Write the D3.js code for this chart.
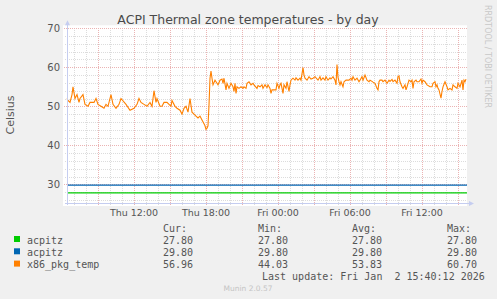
<!DOCTYPE html>
<html><head><meta charset="utf-8">
<script src="https://cdn.jsdelivr.net/npm/d3@7/dist/d3.min.js"></script>
<style>
html,body{margin:0;padding:0;background:#f0f0f0;}
svg{display:block;}
text{font-family:"DejaVu Sans",sans-serif;}
.mono{font-family:"DejaVu Sans Mono",monospace;white-space:pre;}
</style></head><body>
<script>
// ---- data ----
const title = "ACPI Thermal zone temperatures - by day";
const yLabel = "Celsius";
const seriesNames = ["acpitz", "acpitz", "x86_pkg_temp"];
const seriesColors = ["#00cc00", "#0066b3", "#ff8000"];
const curVals = ["27.80", "29.80", "56.96"];
const minVals = ["27.80", "29.80", "44.03"];
const avgVals = ["27.80", "29.80", "53.83"];
const maxVals = ["27.80", "29.80", "60.70"];
const acpitz1 = [27.8, 27.8];
const acpitz2 = [29.8, 29.8];
const yTicks = [30, 40, 50, 60, 70];
const xTickMinutes = [720, 1080, 1440, 1800, 2160];
const xTickLabels = ["Thu 12:00", "Thu 18:00", "Fri 00:00", "Fri 06:00", "Fri 12:00"];
const timeDomain = [385, 2385]; // minutes since Thu 00:00
// minutes since Thu 00:00
const pkgMinutes = [385,390,400,410,415,425,435,445,450,465,475,490,500,520,530,540,555,570,580,590,605,615,630,645,655,680,700,720,735,745,755,770,785,800,810,820,830,835,850,860,870,885,895,905,910,925,935,950,960,970,980,990,1000,1010,1020,1030,1040,1050,1060,1070,1075,1080,1085,1090,1095,1100,1105,1110,1115,1125,1135,1140,1150,1160,1165,1170,1180,1185,1195,1205,1215,1220,1225,1230,1235,1245,1255,1265,1270,1280,1285,1295,1305,1315,1320,1335,1340,1350,1360,1365,1375,1385,1390,1400,1405,1410,1430,1435,1445,1450,1455,1465,1470,1480,1485,1495,1500,1505,1515,1525,1530,1540,1550,1555,1565,1570,1575,1585,1595,1605,1615,1625,1640,1650,1655,1665,1675,1680,1690,1700,1705,1715,1725,1730,1735,1740,1745,1750,1755,1765,1770,1780,1795,1805,1810,1815,1825,1835,1845,1850,1860,1865,1875,1885,1895,1900,1910,1915,1925,1935,1940,1945,1950,1960,1965,1975,1985,1995,2000,2010,2015,2025,2035,2040,2045,2050,2060,2065,2075,2080,2085,2095,2105,2110,2115,2120,2130,2135,2145,2155,2160,2165,2175,2185,2200,2210,2215,2225,2230,2235,2240,2245,2255,2260,2265,2275,2285,2290,2300,2310,2315,2325,2335,2340,2350,2360,2365,2370,2375,2380];
const pkgTemps = [52,51.5,51,53,55,52,53,51,52,53,50.5,50,51,51,52,50.5,50,49.5,50.5,50,53,50.5,49.5,50.5,52,50.5,49,49.5,50.5,52,51,50.5,50,51,50,54,51,52,50,50,51,51,50.5,50,51.5,50,49.5,49,48,49.5,50,48.5,52,48.5,48,47.5,47,47.5,46.5,45.5,45,44.1,44.4,45,50.3,57.2,59,57.2,55.5,56.7,55.9,55.5,56.7,57,55.9,57.2,54.2,55.9,54.6,55.9,55,53.8,55.9,53.3,55,54.6,55,54.6,55,54.6,55.9,56.3,55.5,55.9,55.5,54.6,55.3,55,55.5,54.6,55.5,54.8,55.5,54.6,53.3,54.2,54.2,55.9,54.6,55.5,55.9,53.3,55.5,54.6,56.3,53.8,55.5,56.7,57.2,56.7,57.3,56.7,57.2,56.7,59.9,58,57.2,56.7,57.6,57,57.2,57.6,56.7,57.6,56.7,57.3,56.7,57.6,56.7,57.3,57,57.6,56.7,55.5,60.7,57.5,56.3,55.5,56.3,55,56.3,56.7,56.7,57.2,56.7,57.6,56.7,57.2,56.3,56.7,57.6,56.7,58,56.7,56.3,56.7,56.4,56.2,55.9,54.6,54.2,56.3,56.7,56.7,56.3,56.7,55.9,56.7,56.4,56.9,56.3,56.7,55.9,57.6,57.8,56.3,55,54.6,55.5,54.2,55,56.7,56.3,56.7,54.6,56.3,56.7,56.3,56.3,57,55.9,56.7,56.3,55.5,55,55,55.9,56.3,55,55.5,54.6,54.2,52.1,53.8,55,56.3,55,54.2,54.6,54.2,55.5,55,54.6,55.9,55,56.7,54.2,56.7,56.3,56.96];

// ---- layout ----
const W = 497, H = 299;
const pL = 67, pR = 467, pT = 28.3, pB = 203;
const svg = d3.select("body").append("svg").attr("width", W).attr("height", H);

const x = d3.scaleLinear().domain(timeDomain).range([pL, pR]);
const y = d3.scaleLinear().domain([30, 70]).range([184.3, 28.3]);
const yMin = y.invert(pB);

// canvas
svg.append("rect").attr("x", pL - 4).attr("y", pT - 3).attr("width", pR - pL + 4).attr("height", pB - pT + 6).attr("fill", "#ffffff");

const minorCol = "#dcdcdc", majorCol = "#ebb3b3";
const g = svg.append("g").attr("shape-rendering", "crispEdges");
const yMinor = d3.range(26, 71, 2).filter(v => v % 10 !== 0 && v >= yMin);
yMinor.forEach(v => {
  const yy = Math.round(y(v)) + 0.5;
  g.append("line").attr("x1", pL - 2).attr("x2", pR).attr("y1", yy).attr("y2", yy)
    .attr("stroke", minorCol).attr("stroke-dasharray", "1,1");
});
const xMinor = d3.range(420, 2385, 60).filter(m => m % 180 !== 0);
xMinor.forEach(m => {
  const xx = Math.round(x(m)) + 0.5;
  g.append("line").attr("y1", pT).attr("y2", pB + 2).attr("x1", xx).attr("x2", xx)
    .attr("stroke", minorCol).attr("stroke-dasharray", "1,1");
});
const xMajor = d3.range(540, 2385, 180);
xMajor.forEach(m => {
  const xx = Math.round(x(m)) + 0.5;
  g.append("line").attr("y1", pT).attr("y2", pB + 3).attr("x1", xx).attr("x2", xx)
    .attr("stroke", majorCol).attr("stroke-dasharray", "1,1");
});
yTicks.forEach(v => {
  const yy = Math.round(y(v)) + 0.5;
  g.append("line").attr("x1", pL - 3).attr("x2", pR).attr("y1", yy).attr("y2", yy)
    .attr("stroke", majorCol).attr("stroke-dasharray", "1,1");
});

// y tick labels
yTicks.forEach(v => {
  svg.append("text").attr("x", 60).attr("y", y(v) + 3.5).attr("text-anchor", "end")
    .attr("font-size", 10).attr("fill", "#555").text(v);
});
// x tick labels
xTickMinutes.forEach((m, i) => {
  svg.append("text").attr("x", x(m)).attr("y", 216).attr("text-anchor", "middle")
    .attr("font-size", 9.5).attr("fill", "#555").text(xTickLabels[i]);
});

// series lines
const line = d3.line().x(d => x(d[0])).y(d => y(d[1]));
[acpitz1, acpitz2].forEach((vals, i) => {
  svg.append("path").datum(timeDomain.map((t, k) => [t, vals[k]])).attr("d", line)
    .attr("fill", "none").attr("stroke", seriesColors[i]).attr("stroke-width", 1.3);
});
svg.append("path").datum(pkgMinutes.map((m, i) => [m, pkgTemps[i]]))
  .attr("d", line).attr("fill", "none").attr("stroke", seriesColors[2]).attr("stroke-width", 1.1).attr("stroke-linejoin", "miter");

// axes
const axisColor = "#c5cdf0";
svg.append("rect").attr("x", pL).attr("y", pT - 4).attr("width", 1).attr("height", pB - pT + 6).attr("fill", axisColor);
svg.append("path").attr("d", `M${pL - 2},${pT - 3}L${pL + 3},${pT - 3}L${pL + 0.5},${pT - 8}Z`).attr("fill", axisColor);
svg.append("rect").attr("x", pL - 2).attr("y", pB).attr("width", pR - pL + 5).attr("height", 1).attr("fill", axisColor);
svg.append("path").attr("d", `M${pR + 2},${pB - 2}L${pR + 2},${pB + 3}L${pR + 7},${pB + 0.5}Z`).attr("fill", axisColor);

// title
svg.append("text").attr("x", 248).attr("y", 24).attr("text-anchor", "middle").attr("font-size", 12.5).attr("fill", "#4a4a4a").text(title);
// y label
svg.append("text").attr("transform", `translate(14,${115}) rotate(-90)`).attr("text-anchor", "middle")
  .attr("font-size", 11).attr("fill", "#555").text(yLabel);
// watermark
svg.append("text").attr("transform", `translate(485,${5}) rotate(90)`).attr("text-anchor", "start")
  .attr("font-size", 8).attr("fill", "#c8c8c8").text("RRDTOOL / TOBI OETIKER");

// legend
const colX = [163, 258, 352, 447];
const headers = ["Cur:", "Min:", "Avg:", "Max:"];
headers.forEach((h, i) => svg.append("text").attr("class", "mono").attr("x", colX[i]).attr("y", 232)
  .attr("font-size", 10).attr("fill", "#555").text(h));
const cols = [curVals, minVals, avgVals, maxVals];
seriesNames.forEach((n, r) => {
  const by = 243.5 + r * 12.3;
  svg.append("rect").attr("x", 14).attr("y", by - 7.5).attr("width", 6).attr("height", 6).attr("fill", seriesColors[r]);
  svg.append("text").attr("class", "mono").attr("x", 27).attr("y", by).attr("font-size", 10).attr("fill", "#555").text(n);
  cols.forEach((c, i) => svg.append("text").attr("class", "mono").attr("x", colX[i]).attr("y", by)
    .attr("font-size", 10).attr("fill", "#555").text(c[r]));
});
svg.append("text").attr("class", "mono").attr("x", 262).attr("y", 280).attr("font-size", 10).attr("fill", "#555")
  .text("Last update: Fri Jan  2 15:40:12 2026");
svg.append("text").attr("x", 248).attr("y", 291).attr("text-anchor", "middle").attr("font-size", 7.5).attr("fill", "#c4c4c4").text("Munin 2.0.57");
</script>
</body></html>
